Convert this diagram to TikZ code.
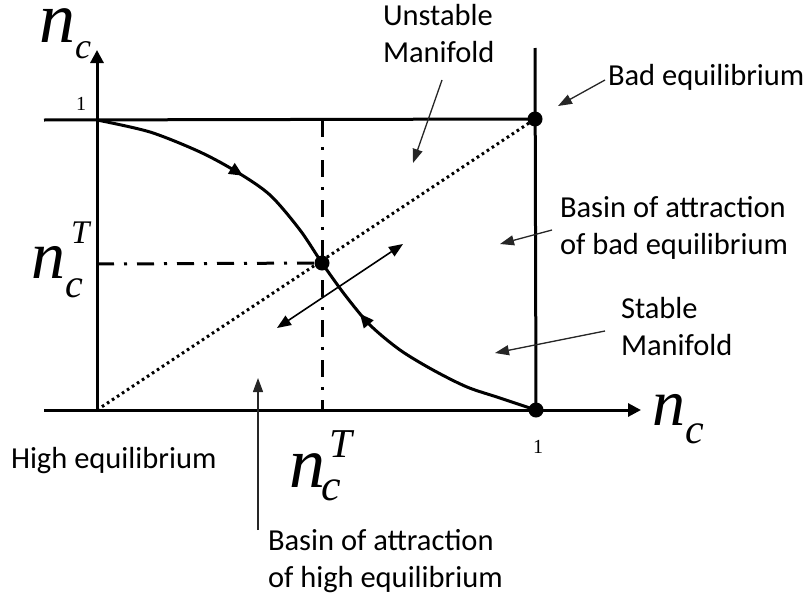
\documentclass[tikz,border=0pt]{standalone}
\usepackage{fontspec}
\setmainfont{Carlito}
\newfontfamily\serif{Liberation Serif}
\usetikzlibrary{arrows.meta,decorations.markings}
\tikzset{
  axisline/.style={line width=3pt, -{Triangle[length=13pt,width=13pt]}},
  frameline/.style={line width=3pt},
  guide/.style={line width=3pt, dash pattern=on 17pt off 10pt on 3pt off 10pt},
  diag/.style={line width=3pt, dash pattern=on 2.6pt off 3.4pt},
  note/.style={line width=1.3pt, draw=black!85, -{Triangle[length=14pt,width=10pt]}},
  dbl/.style={line width=1.6pt, {Triangle[length=14pt,width=11pt]}-{Triangle[length=14pt,width=11pt]}},
  lbl/.style={font=\fontsize{30.5}{36.5}\selectfont, inner sep=0pt, outer sep=0pt, align=left},
  eqdot/.style={circle, fill=black, inner sep=0pt, minimum size=15pt},
  mlbl/.style={inner sep=0pt, outer sep=0pt, anchor=base west, font=\serif\itshape},
  curve/.style={line width=3pt, postaction={decorate}, decoration={markings,
    mark=at position 0.29 with {\arrow{Triangle[length=14pt,width=12pt]}},
    mark=at position 0.625 with {\arrowreversed{Triangle[length=14pt,width=12pt]}}}},
}
\begin{document}
\begin{tikzpicture}[x=1pt,y=-1pt]
\useasboundingbox (0,0) rectangle (805,597);
% key points
\coordinate (O) at (97,410);
\coordinate (TL) at (97,120);
\coordinate (ytip) at (97,50);
\coordinate (xleft) at (44,410);
\coordinate (xtip) at (641,410);
\coordinate (topleft) at (44,120);
\coordinate (rtop) at (535,48);
\coordinate (vtop) at (322,120);
\coordinate (vbot) at (322,410);
\coordinate (hleft) at (97,264);
% axes and frame
\draw[axisline] (O) -- (ytip);
\draw[axisline] (xleft) -- (xtip);
\node[eqdot] (bad) at (535,119) {};
\node[eqdot] (mid) at (322,263) {};
\node[eqdot] (high) at (536,410) {};
\draw[frameline] (topleft) -- (bad.center);
\draw[frameline] (rtop) -- (high.center);
% guides
\draw[guide] (vtop) -- (vbot);
\draw[guide] (hleft) -- (mid.center);
\draw[diag] (O) -- (bad.center);
% manifold curve
\draw[curve] plot[smooth, tension=0.5] coordinates {(TL) (150,132) (200,152) (237,172) (270,195) (300,230) (mid.center) (345,295) (370,325) (400,350) (433,370) (467,387) (500,398) (high.center)};
% unstable manifold double arrow
\coordinate (dA) at (277,328);
\coordinate (dB) at (403,244);
\draw[dbl] (dA) -- (dB);
% math labels
\node[mlbl] (ylab) at (39,42) {\fontsize{72}{72}\selectfont \raisebox{0pt}[33pt]{n}\raisebox{-16pt}{\fontsize{36}{36}\selectfont c}};
\node[mlbl] (ltlab) at (31,278) {\fontsize{68}{68}\selectfont n\rlap{\hspace{6pt}\raisebox{35pt}{\fontsize{33}{33}\selectfont T}}\raisebox{-19pt}{\fontsize{40}{40}\selectfont c}};
\node[mlbl] (btlab) at (289,487) {\fontsize{72}{72}\selectfont n\rlap{\hspace{4pt}\raisebox{30pt}{\fontsize{41}{41}\selectfont T}}\kern-4pt\raisebox{-13pt}{\fontsize{44}{44}\selectfont c}};
\node[mlbl] (xlab) at (652,425) {\fontsize{66}{66}\selectfont n\raisebox{-18pt}{\fontsize{42}{42}\selectfont c}};
\node[font=\serif\fontsize{20}{20}\selectfont, inner sep=0pt] (one1) at (81,104) {1};
\node[font=\serif\fontsize{20}{20}\selectfont, inner sep=0pt] (one2) at (538,447) {1};
% text labels
\node[lbl, anchor=north west] (unst) at (383,0) {\strut Unstable\\Manifold};
\node[lbl, anchor=base west] (badl) at (608,85) {Bad equilibrium};
\node[lbl, anchor=north west] (basbad) at (560,192) {\strut Basin of attraction\\of bad equilibrium};
\node[lbl, anchor=north west] (stab) at (621,293) {\strut Stable\\Manifold};
\node[lbl, anchor=base west] (highl) at (11,468) {High equilibrium};
\node[lbl, anchor=north west] (bashigh) at (268,525) {\strut Basin of attraction\\of high equilibrium};
% annotation arrows
\coordinate (uT) at (442,80);  \coordinate (uH) at (413,163);
\coordinate (bT) at (605,80);  \coordinate (bH) at (558,106);
\coordinate (gT) at (552,230); \coordinate (gH) at (500,244);
\coordinate (sT) at (605,331); \coordinate (sH) at (495,353);
\coordinate (hT) at (258,530); \coordinate (hH) at (258,378);
\draw[note] (uT) -- (uH);
\draw[note] (bT) -- (bH);
\draw[note] (gT) -- (gH);
\draw[note] (sT) -- (sH);
\draw[note] (hT) -- (hH);
\end{tikzpicture}
\end{document}
